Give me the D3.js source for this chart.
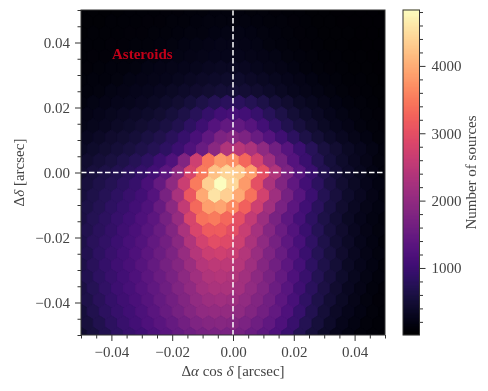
<!DOCTYPE html>
<html>
<head>
    <meta charset="utf-8">
    <style>
        body { margin: 0; background: #fff; }
        svg { display: block; filter: blur(0.45px); }
        text { font-family: "Liberation Serif", serif; fill: #444; }
        .axis text { font-size: 15px; }
        .axis path, .axis line { stroke: #333; stroke-width: 1px; }
        .label { font-size: 15px; }
    </style>
</head>
<body>
    <script src="https://d3js.org/d3.v7.min.js"></script>
    <script>
        // Ticks
        var axisTicks = [-0.04, -0.02, 0, 0.02, 0.04];
        var axisMinorTicks = [-0.05, -0.045, -0.035, -0.03, -0.025, -0.015, -0.01, -0.005, 0.005, 0.01, 0.015, 0.025, 0.03, 0.035, 0.045, 0.05];
        var barTicks = [1000, 2000, 3000, 4000];
        var barMinorTicks = [200, 400, 600, 800, 1200, 1400, 1600, 1800, 2200, 2400, 2600, 2800, 3200, 3400, 3600, 3800, 4200, 4400, 4600, 4800];

        // Counts per hexagon, top row first. Long rows start at -0.05, short rows at -0.048
        var hexColumnStep = 0.004;
        var hexRowStep = 0.1 / 28;
        var hexCounts = [
            [50,50,55,60,65,70,75,85,90,100,110,120,125,120,110,100,90,75,65,55,50,40,35,30,25,20],
            [55,60,65,70,80,85,95,105,115,130,140,150,145,140,130,115,100,85,70,60,50,40,35,30,25],
            [60,65,70,75,85,95,105,115,125,140,155,170,180,175,165,150,130,110,90,75,60,50,45,35,30,25],
            [70,80,85,95,105,115,130,145,160,180,200,215,215,200,180,155,130,110,90,75,60,50,40,35,30],
            [75,85,95,105,115,130,150,165,185,205,225,240,250,250,230,205,175,150,125,100,80,65,55,45,35,30],
            [90,105,120,135,155,175,195,215,240,265,295,315,315,300,265,230,195,160,130,105,85,70,55,45,35],
            [105,120,135,155,175,200,225,250,275,310,345,380,395,390,360,320,275,235,195,160,125,100,80,65,50,40],
            [130,155,180,205,235,265,295,330,365,410,455,490,495,470,425,370,320,265,220,175,140,115,90,70,55],
            [150,175,205,235,265,300,340,390,450,530,620,720,790,790,720,610,510,420,340,275,215,170,130,100,80,60],
            [200,236,273,311,351,396,452,525,620,742,897,1045,1105,1052,915,755,615,495,396,315,247,191,146,112,85],
            [220,260,305,350,395,445,500,580,680,820,1000,1250,1420,1420,1280,1050,850,680,540,430,340,265,200,155,115,85],
            [300,350,405,455,510,575,660,770,920,1130,1400,1750,1850,1750,1500,1250,1020,800,620,480,370,290,220,160,115],
            [330,390,450,510,570,640,720,830,980,1200,1500,1900,2350,2450,2300,1950,1600,1270,980,750,570,440,340,260,185,130],
            [430,500,570,640,725,830,990,1200,1800,2700,3450,3800,3700,3300,2750,2150,1650,1250,950,710,530,400,300,220,150],
            [450,540,620,700,790,900,1050,1350,1950,2800,3500,4200,4400,4300,3850,3000,2350,1750,1300,950,700,510,380,280,190,130],
            [540,630,720,810,920,1130,1450,1950,2650,3500,4350,4830,4450,3800,3000,2300,1800,1400,1050,800,590,440,330,240,160],
            [540,640,730,830,930,1060,1250,1700,2250,3100,3950,4550,4350,3950,3400,2750,2150,1650,1300,970,720,540,400,290,200,140],
            [620,720,820,925,1050,1210,1490,1910,2550,3310,3850,3925,3650,3225,2700,2175,1720,1350,1040,780,585,435,320,230,160],
            [600,710,810,910,1030,1180,1350,1650,2050,2800,3400,3500,3300,3000,2550,2100,1700,1380,1080,820,620,460,340,250,170,120],
            [675,790,890,1005,1140,1300,1510,1805,2275,2825,3150,3160,2975,2640,2225,1850,1530,1235,960,730,545,405,300,210,140],
            [630,760,870,980,1100,1240,1420,1620,1900,2350,2750,2950,2900,2700,2300,1950,1650,1380,1100,840,630,470,350,250,170,110],
            [700,825,940,1055,1190,1350,1535,1755,2050,2400,2650,2710,2625,2390,2060,1760,1495,1230,960,735,555,410,295,205,140],
            [640,770,900,1010,1130,1280,1450,1650,1850,2100,2400,2500,2500,2400,2150,1850,1600,1350,1080,830,640,480,340,240,160,110],
            [690,820,940,1060,1190,1345,1520,1715,1930,2170,2350,2400,2350,2190,1945,1695,1450,1190,930,710,535,390,270,185,120],
            [600,740,870,990,1110,1250,1400,1580,1780,1980,2200,2300,2300,2200,2000,1780,1550,1300,1020,780,590,430,300,200,130,90],
            [635,770,895,1015,1140,1285,1445,1620,1810,1995,2125,2160,2120,1990,1800,1590,1360,1105,850,640,470,330,225,150,95],
            [530,670,800,920,1040,1170,1320,1480,1650,1820,1980,2020,2020,1950,1800,1620,1420,1180,920,690,510,360,240,160,100,70],
            [545,680,810,930,1045,1175,1320,1470,1625,1765,1850,1870,1840,1735,1580,1400,1180,940,710,520,370,250,165,105,70],
            [420,560,700,820,930,1040,1170,1310,1450,1580,1680,1720,1720,1660,1530,1370,1180,950,710,520,370,250,160,100,65,50]
        ];

        var width = 488, height = 391;
        var plot = { left: 81, right: 385, top: 10, bottom: 335 };
        var bar = { left: 403, right: 419.5 };
        var countMin = 5, countMax = 4830;

        var x = d3.scaleLinear().domain([-0.05, 0.05]).range([plot.left, plot.right]);
        var y = d3.scaleLinear().domain([-0.05, 0.05]).range([plot.bottom, plot.top]);
        var barScale = d3.scaleLinear().domain([countMin, countMax]).range([plot.bottom, plot.top]);
        var colour = d3.scaleSequential(d3.interpolateMagma).domain([countMin, countMax]);

        var svg = d3.select("body").append("svg")
            .attr("width", width)
            .attr("height", height);

        svg.append("clipPath").attr("id", "plot-clip")
            .append("rect")
            .attr("x", plot.left).attr("y", plot.top)
            .attr("width", plot.right - plot.left).attr("height", plot.bottom - plot.top);

        // Flatten the rows into hexagons
        var hexes = [];
        hexCounts.forEach(function (row, r) {
            var start = r % 2 === 0 ? -0.05 : -0.05 + hexColumnStep / 2;
            row.forEach(function (count, i) {
                hexes.push({ cx: start + i * hexColumnStep, cy: 0.05 - r * hexRowStep, count: count });
            });
        });

        // Pointy-top hexagon, same shape as matplotlib's hexbin
        function hexPath(d) {
            var hw = hexColumnStep / 2, h1 = hexRowStep / 3, h2 = hexRowStep * 2 / 3;
            var corners = [[hw, -h1], [hw, h1], [0, h2], [-hw, h1], [-hw, -h1], [0, -h2]];
            return "M" + corners.map(function (c) {
                return x(d.cx + c[0]) + "," + y(d.cy + c[1]);
            }).join("L") + "Z";
        }

        var hexLayer = svg.append("g").attr("clip-path", "url(#plot-clip)");

        hexLayer.append("rect")
            .attr("x", plot.left).attr("y", plot.top)
            .attr("width", plot.right - plot.left).attr("height", plot.bottom - plot.top)
            .attr("fill", colour(countMin));

        hexLayer.selectAll("path")
            .data(hexes)
            .enter().append("path")
            .attr("d", hexPath)
            .attr("fill", function (d) { return colour(d.count); })
            .attr("stroke", function (d) { return colour(d.count); })
            .attr("stroke-width", 1);

        // Dashed lines through zero
        svg.append("line")
            .attr("x1", x(0)).attr("x2", x(0))
            .attr("y1", plot.top).attr("y2", plot.bottom)
            .attr("stroke", "#fff").attr("stroke-width", 1.5).attr("stroke-dasharray", "5.5,2.5");
        svg.append("line")
            .attr("x1", plot.left).attr("x2", plot.right)
            .attr("y1", y(0)).attr("y2", y(0))
            .attr("stroke", "#fff").attr("stroke-width", 1.5).attr("stroke-dasharray", "5.5,2.5");

        svg.append("text")
            .attr("x", 112).attr("y", 58.5)
            .style("font-size", "15px").style("font-weight", "bold").style("fill", "#c00018")
            .text("Asteroids");

        // Axes
        function tickText(d) {
            return d3.format(".2f")(d).replace("-", "\u2212");
        }

        svg.append("g").attr("class", "axis")
            .attr("transform", "translate(0," + plot.bottom + ")")
            .call(d3.axisBottom(x).tickValues(axisTicks).tickFormat(tickText).tickSize(6).tickPadding(5));
        svg.append("g").attr("class", "axis")
            .attr("transform", "translate(0," + plot.bottom + ")")
            .call(d3.axisBottom(x).tickValues(axisMinorTicks).tickFormat("").tickSize(3.5));
        svg.append("g").attr("class", "axis")
            .attr("transform", "translate(" + plot.left + ",0)")
            .call(d3.axisLeft(y).tickValues(axisTicks).tickFormat(tickText).tickSize(6).tickPadding(5));
        svg.append("g").attr("class", "axis")
            .attr("transform", "translate(" + plot.left + ",0)")
            .call(d3.axisLeft(y).tickValues(axisMinorTicks).tickFormat("").tickSize(3.5));

        // Frame
        svg.append("rect")
            .attr("x", plot.left).attr("y", plot.top)
            .attr("width", plot.right - plot.left).attr("height", plot.bottom - plot.top)
            .attr("fill", "none").attr("stroke", "#333").attr("stroke-width", 1);

        // Axis titles
        var xTitle = svg.append("text").attr("class", "label")
            .attr("x", x(0)).attr("y", 376).attr("text-anchor", "middle");
        xTitle.append("tspan").text("\u0394");
        xTitle.append("tspan").style("font-style", "italic").text("\u03b1");
        xTitle.append("tspan").text(" cos ");
        xTitle.append("tspan").style("font-style", "italic").text("\u03b4");
        xTitle.append("tspan").text(" [arcsec]");

        var yTitle = svg.append("text").attr("class", "label")
            .attr("text-anchor", "middle")
            .attr("transform", "translate(24," + y(0) + ") rotate(-90)");
        yTitle.append("tspan").text("\u0394");
        yTitle.append("tspan").style("font-style", "italic").text("\u03b4");
        yTitle.append("tspan").text(" [arcsec]");

        // Colour bar
        var barSteps = d3.range(countMin, countMax, (countMax - countMin) / 325);
        svg.append("g").selectAll("rect")
            .data(barSteps)
            .enter().append("rect")
            .attr("x", bar.left)
            .attr("width", bar.right - bar.left)
            .attr("y", function (d) { return barScale(d) - 1.5; })
            .attr("height", 1.6)
            .attr("fill", function (d) { return colour(d); });

        svg.append("g").attr("class", "axis")
            .attr("transform", "translate(" + bar.right + ",0)")
            .call(d3.axisRight(barScale).tickValues(barTicks).tickFormat(d3.format("d")).tickSize(6).tickPadding(6));
        svg.append("g").attr("class", "axis")
            .attr("transform", "translate(" + bar.right + ",0)")
            .call(d3.axisRight(barScale).tickValues(barMinorTicks).tickFormat("").tickSize(3.5));

        svg.append("rect")
            .attr("x", bar.left).attr("y", plot.top)
            .attr("width", bar.right - bar.left).attr("height", plot.bottom - plot.top)
            .attr("fill", "none").attr("stroke", "#333").attr("stroke-width", 1);

        svg.append("text").attr("class", "label")
            .attr("text-anchor", "middle")
            .attr("transform", "translate(476," + y(0) + ") rotate(-90)")
            .text("Number of sources");

        svg.selectAll(".axis .domain").remove();
    </script>
</body>
</html>
